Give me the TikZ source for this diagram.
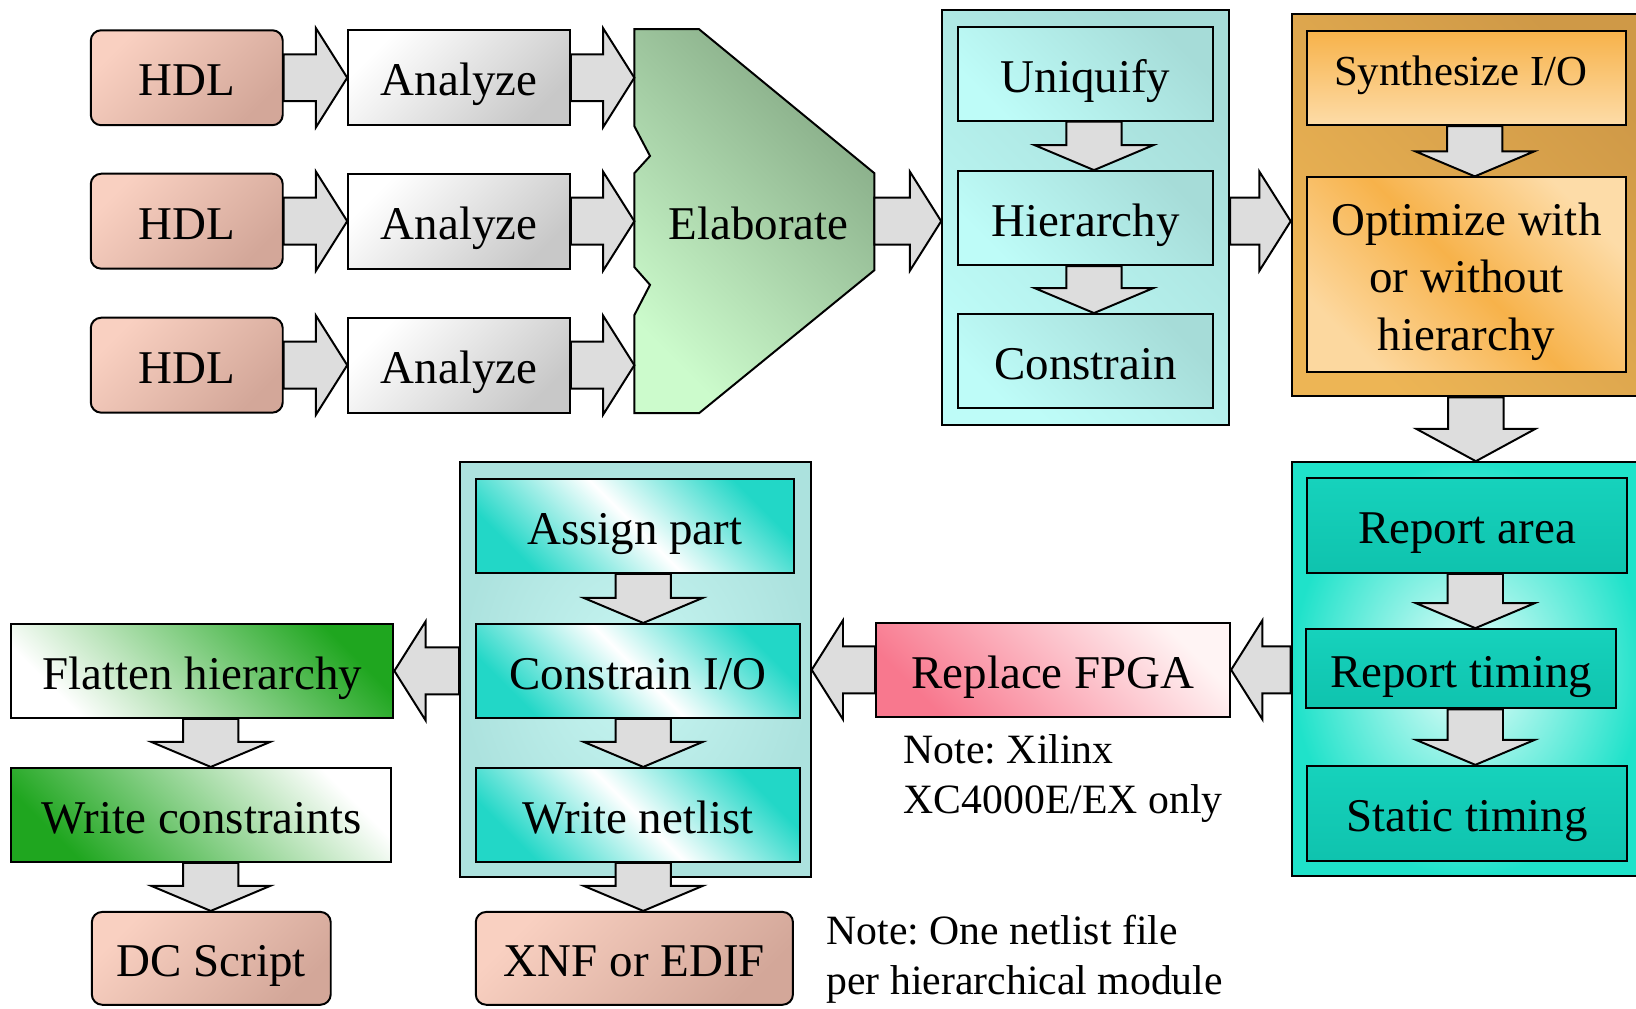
\documentclass[tikz,border=0pt]{standalone}
\usepackage{fontspec}
\setmainfont{Liberation Serif}
\usetikzlibrary{calc}
\frenchspacing

\definecolor{arrowfill}{HTML}{DDDDDD}
\definecolor{fileA}{HTML}{F9D0C1}
\definecolor{fileB}{HTML}{D3A799}
\definecolor{anaB}{HTML}{C8C8C8}
\definecolor{elabA}{HTML}{84A884}
\definecolor{elabB}{HTML}{CCFBCC}
\definecolor{cyanA}{HTML}{A6DCD8}
\definecolor{cyanB}{HTML}{BEFCF8}
\definecolor{orgA}{HTML}{CF9947}
\definecolor{orgB}{HTML}{EDB555}
\definecolor{orgC}{HTML}{F7B24A}
\definecolor{orgD}{HTML}{FDDCA8}
\definecolor{tealA}{HTML}{1FE2CA}
\definecolor{tealB}{HTML}{EEFFFC}
\definecolor{tealC}{HTML}{16D2BC}
\definecolor{tealD}{HTML}{0FC3AE}
\definecolor{pinkA}{HTML}{F8788E}
\definecolor{pinkB}{HTML}{FFF4F4}
\definecolor{aquaA}{HTML}{C8F6F2}
\definecolor{aquaB}{HTML}{ACE2DE}
\definecolor{aquaC}{HTML}{22D7C7}
\definecolor{greenA}{HTML}{1FA61F}

\tikzset{
  outline/.style={draw=black, line width=1.9pt, line join=miter},
  stepbox/.style={outline, inner sep=0pt, font=\fontsize{45}{55}\selectfont,
    text height=42pt, text depth=7pt, align=center},
  filebox/.style={stepbox, rounded corners=10pt, top color=fileA, bottom color=fileB, shading angle=45},
  anabox/.style={stepbox, top color=white, bottom color=anaB, shading angle=45},
  cyanbox/.style={stepbox, top color=cyanA, bottom color=cyanB, shading angle=-45},
  orgbox/.style={stepbox, top color=orgC, bottom color=orgD},
  tealbox/.style={stepbox, top color=tealC, bottom color=tealD},
  aquabox/.style={stepbox, top color=aquaC, bottom color=aquaC, middle color=white, shading angle=-45},
  group/.style={outline, inner sep=0pt},
  blockarrow/.style={outline, fill=arrowfill},
  note/.style={font=\fontsize{40}{48}\selectfont, align=left, inner sep=0pt, anchor=north west}
}

% right-pointing block arrow from #1 to #2, centred on the height of #3
\newcommand\arrR[3]{%
  \draw[blockarrow] let \p1=(#1), \p2=(#2), \p3=(#3) in
    (\x1,\y3+22.5) -- (\x2-30,\y3+22.5) -- (\x2-30,\y3+47.5) -- (\x2,\y3)
    -- (\x2-30,\y3-47.5) -- (\x2-30,\y3-22.5) -- (\x1,\y3-22.5) -- cycle;}
% left-pointing block arrow from #1 to #2, centred on the height of #3
\newcommand\arrL[3]{%
  \draw[blockarrow] let \p1=(#1), \p2=(#2), \p3=(#3) in
    (\x1,\y3+22.5) -- (\x2+30,\y3+22.5) -- (\x2+30,\y3+47.5) -- (\x2,\y3)
    -- (\x2+30,\y3-47.5) -- (\x2+30,\y3-22.5) -- (\x1,\y3-22.5) -- cycle;}
% downward block arrow from #1 to #2, placed just right of #3's centre, head length #4
\newcommand\arrD[4]{%
  \draw[blockarrow] let \p1=(#1), \p2=(#2), \p3=(#3) in
    (\x3+8-26.5,\y1) -- (\x3+8-26.5,\y2+#4) -- (\x3+8-57,\y2+#4) -- (\x3+8,\y2)
    -- (\x3+8+57,\y2+#4) -- (\x3+8+26.5,\y2+#4) -- (\x3+8+26.5,\y1) -- cycle;}

\begin{document}
\begin{tikzpicture}[x=1pt,y=-1pt]
\useasboundingbox (0,0) rectangle (1568,967);
\clip (0,0) rectangle (1568,967);
\fill[white] (0,0) rectangle (1568,967);

% ---- source files and analysis
\foreach \i/\y in {1/74.5, 2/212, 3/350} {
  \node[filebox, minimum width=184pt, minimum height=91pt] (hdl\i) at (179,\y) {HDL};
  \node[anabox, minimum width=212.5pt, minimum height=91pt] (ana\i) at (440,\y) {Analyze};
  \coordinate (elabIn\i) at (608,\y);
}

% ---- elaboration
\path[outline, top color=elabA, bottom color=elabB, shading angle=-45]
  (608,28) -- (670,28) -- (838,166) -- (838,259) -- (670,396) -- (608,396)
  -- (608,302) -- (623,273) -- (608,256) -- (608,166) -- (623,149.5) -- (608,121) -- cycle;
\node[font=\fontsize{45}{55}\selectfont, text height=42pt, text depth=7pt, inner sep=0pt] (elab) at (727,212) {Elaborate};
\coordinate (elabOut) at (838,212);

% ---- hierarchy handling
\node[group, top color=cyanA, bottom color=cyanB, shading angle=-45,
  minimum width=275pt, minimum height=397pt] (grp1) at (1040.5,208.5) {};
\node[cyanbox, minimum width=245pt, minimum height=90pt] (uniq) at (1040.5,70.7) {Uniquify};
\node[cyanbox, minimum width=245pt, minimum height=90pt] (hier) at (1040.5,209) {Hierarchy};
\node[cyanbox, minimum width=245pt, minimum height=90pt] (cons) at (1040.5,346) {Constrain};

% ---- synthesis
\node[group, top color=orgA, bottom color=orgB, shading angle=-45,
  minimum width=337pt, minimum height=366.6pt] (orng) at (1406.5,196.7) {};
\node[orgbox, minimum width=305pt, minimum height=90.6pt] (synth) at (1405.5,74.7) {};
\node[font=\fontsize{41}{50}\selectfont, inner sep=0pt, anchor=base] (synthtext) at (1400,82) {Synthesize I/O};
\node[outline, inner sep=0pt, align=center, font=\fontsize{45}{55}\selectfont,
  top color=orgD, bottom color=orgD!90!orgC, middle color=orgC,
  shading angle=-45, minimum width=305pt, minimum height=187pt] (optim) at (1405.5,263.5) {};
\node[font=\fontsize{45}{55}\selectfont, inner sep=0pt, align=center, anchor=center] (optimtext) at (1405.5,270)
  {Optimize with\\or without\\hierarchy};

% ---- reports
\node[group, inner color=tealB, outer color=tealA,
  minimum width=337pt, minimum height=397pt] (teal) at (1406.5,641.5) {};
\node[tealbox, minimum width=306pt, minimum height=91pt] (rarea) at (1406,503.5) {Report area};
\node[tealbox, minimum width=297pt, minimum height=76pt] (rtime) at (1400.5,641) {Report timing};
\node[tealbox, minimum width=306pt, minimum height=91pt] (stime) at (1406,779.5) {Static timing};

% ---- FPGA replacement
\node[stepbox, top color=pinkB, bottom color=pinkA, shading angle=-45,
  minimum width=339.4pt, minimum height=90pt] (repl) at (1009.3,642) {Replace FPGA};
\node[note] (note1) at (866,703.7) {Note: Xilinx\\XC4000E/EX only};

% ---- netlist output
\node[group, inner color=aquaA, outer color=aquaB,
  minimum width=336pt, minimum height=398pt] (grp2) at (609,642) {};
\node[aquabox, minimum width=305pt, minimum height=90pt] (assign) at (608.5,504) {Assign part};
\node[aquabox, minimum width=311pt, minimum height=90pt] (consio) at (611.5,643) {Constrain I/O};
\node[aquabox, minimum width=311pt, minimum height=90pt] (wnet) at (611.5,781) {Write netlist};
\node[filebox, minimum width=304pt, minimum height=89pt] (xnf) at (608,918.5) {XNF or EDIF};
\node[note] (note2) at (792,876.7) {Note: One netlist file\\per hierarchical module};

% ---- constraint script output
\node[stepbox, top color=greenA, bottom color=white, shading angle=-45,
  minimum width=366pt, minimum height=90pt] (flat) at (194,643) {Flatten hierarchy};
\node[stepbox, top color=white, bottom color=greenA, shading angle=-45,
  minimum width=364pt, minimum height=90pt] (wcon) at (193,781) {Write constraints};
\node[filebox, minimum width=229pt, minimum height=89pt] (dc) at (202.5,918.5) {DC Script};

% ---- connectors
\foreach \i in {1,2,3} {
  \arrR{hdl\i.east}{ana\i.west}{hdl\i.center}
  \arrR{ana\i.east}{elabIn\i}{ana\i.center}
}
\arrR{elabOut}{grp1.west}{elabOut}
\arrR{grp1.east}{orng.west}{elabOut}
\arrD{uniq.south}{hier.north}{uniq.center}{24}
\arrD{hier.south}{cons.north}{hier.center}{24}
\arrD{synth.south}{optim.north}{synth.center}{24}
\arrD{orng.south}{teal.north}{orng.center}{31}
\arrD{rarea.south}{rtime.north}{rarea.center}{24}
\arrD{rtime.south}{stime.north}{stime.center}{24}
\arrL{teal.west}{repl.east}{repl.center}
\arrL{repl.west}{grp2.east}{repl.center}
\arrD{assign.south}{consio.north}{assign.center}{24}
\arrD{consio.south}{wnet.north}{assign.center}{24}
\arrD{wnet.south}{xnf.north}{assign.center}{24}
\arrL{grp2.west}{flat.east}{flat.center}
\arrD{flat.south}{wcon.north}{flat.center}{24}
\arrD{wcon.south}{dc.north}{flat.center}{24}
\end{tikzpicture}
\end{document}
